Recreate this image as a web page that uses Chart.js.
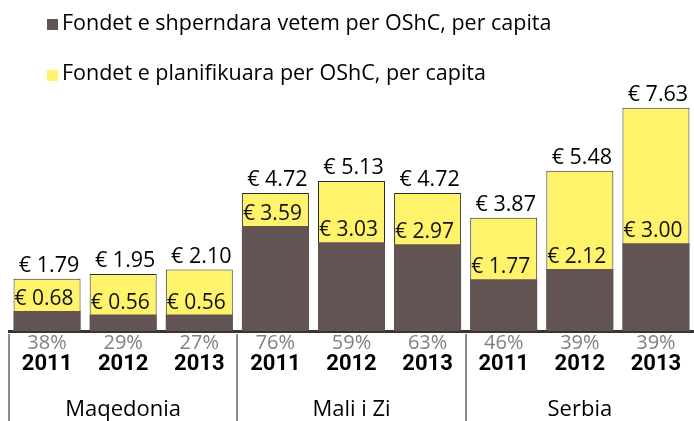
<!DOCTYPE html>
<html>
<head>
<meta charset="utf-8">
<script src="https://cdn.jsdelivr.net/npm/chart.js@4"></script>
<style>
  html, body { margin: 0; padding: 0; background: #ffffff; }
  #wrap { width: 694px; height: 421px; position: relative; }
</style>
</head>
<body>
<div id="wrap"><canvas id="c" width="694" height="421"></canvas></div>
<script>
// ---- data ----
const years = ['2011', '2012', '2013', '2011', '2012', '2013', '2011', '2012', '2013'];
const countries = ['Maqedonia', 'Mali i Zi', 'Serbia'];
const disbursed = [0.68, 0.56, 0.56, 3.59, 3.03, 2.97, 1.77, 2.12, 3.00];
const planned = [1.79, 1.95, 2.10, 4.72, 5.13, 4.72, 3.87, 5.48, 7.63];
const pctLabels = ['38%', '29%', '27%', '76%', '59%', '63%', '46%', '39%', '39%'];
const seriesNames = ['Fondet e shperndara vetem per OShC, per capita', 'Fondet e planifikuara per OShC, per capita'];

const countryLabels = years.map((_, i) => (i % 3 === 1 ? countries[Math.floor(i / 3)] : ''));

const DARK = '#625452';
const YELLOW = '#FFF36C';
const SANS = '"Open Sans", "DejaVu Sans", sans-serif';
const YEARFONT = 'Roboto, "Liberation Sans", sans-serif';

const labelPlugin = {
  id: 'labels',
  afterDraw(chart) {
    const ctx = chart.ctx;
    const darkMeta = chart.getDatasetMeta(0);
    const yelMeta = chart.getDatasetMeta(1);
    ctx.save();
    // top value labels
    ctx.font = '21.5px ' + SANS;
    ctx.fillStyle = '#000';
    ctx.textAlign = 'center';
    ctx.textBaseline = 'alphabetic';
    yelMeta.data.forEach((bar, i) => {
      ctx.fillText('\u20AC ' + planned[i].toFixed(2), bar.x + 2, bar.y - 7);
    });
    // inner labels
    ctx.font = '21px ' + SANS;
    ctx.fillStyle = '#111';
    ctx.textAlign = 'left';
    darkMeta.data.forEach((bar, i) => {
      ctx.fillText('\u20AC ' + disbursed[i].toFixed(2), bar.x - bar.width / 2 + 1, bar.y - 6);
    });
    // separators
    const xs = chart.scales.x;
    const bounds = [xs.left];
    for (let g = 1; g < countries.length; g++) {
      const i = g * 3;
      bounds.push((xs.getPixelForValue(i - 1) + xs.getPixelForValue(i)) / 2);
    }
    ctx.strokeStyle = '#8c8c8c';
    ctx.lineWidth = 2;
    bounds.forEach(x => {
      ctx.beginPath();
      ctx.moveTo(Math.round(x), chart.chartArea.bottom + 3);
      ctx.lineTo(Math.round(x), chart.height);
      ctx.stroke();
    });
    // legend
    const rows = [{ y: 30, sq: 19 }, { y: 80, sq: 70 }];
    ctx.font = '21.5px ' + SANS;
    ctx.textAlign = 'left';
    ctx.textBaseline = 'alphabetic';
    chart.data.datasets.forEach((ds, k) => {
      ctx.fillStyle = ds.backgroundColor;
      ctx.fillRect(47, rows[k].sq, 11, 11);
      ctx.fillStyle = '#000';
      ctx.fillText(ds.label, 62, rows[k].y);
    });
    ctx.restore();
  }
};

new Chart(document.getElementById('c'), {
  type: 'bar',
  data: {
    labels: years,
    datasets: [
      { label: seriesNames[0], data: disbursed, backgroundColor: DARK, borderWidth: 0,
        xAxisID: 'x', yAxisID: 'y', barPercentage: 0.88, categoryPercentage: 1.0 },
      { label: seriesNames[1], data: planned, backgroundColor: YELLOW, borderColor: '#2b2b2b', borderWidth: 1,
        xAxisID: 'x', yAxisID: 'y', barPercentage: 0.88, categoryPercentage: 1.0 }
    ]
  },
  options: {
    responsive: false,
    animation: false,
    layout: { padding: { top: 97, left: 9, right: 0, bottom: 0 } },
    plugins: { legend: { display: false }, tooltip: { enabled: false } },
    scales: {
      x: {
        type: 'category', position: 'bottom', stacked: true, offset: true, weight: 2,
        grid: { display: false, drawTicks: false },
        border: { display: false },
        ticks: { color: '#000', font: { family: YEARFONT, size: 22, weight: 'bold' }, padding: 0, autoSkip: false, maxRotation: 0 },
        afterFit: s => { s.height = 22; }
      },
      y: { display: false, min: 0, max: 8, stacked: false },
      xPct: {
        type: 'category', labels: pctLabels, position: 'bottom', offset: true, weight: 1,
        grid: { display: false, drawTicks: false },
        border: { display: true, color: '#3a3330', width: 3, dash: [2, 1] },
        ticks: { color: '#808080', font: { family: SANS, size: 20 }, padding: 0, autoSkip: false, maxRotation: 0 },
        afterFit: s => { s.height = 20; }
      },
      xCountry: {
        type: 'category', labels: countryLabels, position: 'bottom', offset: true, weight: 3,
        grid: { display: false, drawTicks: false },
        border: { display: false },
        ticks: { color: '#000', font: { family: SANS, size: 22 }, padding: 24, autoSkip: false, maxRotation: 0 },
        afterFit: s => { s.height = 48; }
      }
    }
  },
  plugins: [labelPlugin]
});
</script>
</body>
</html>
